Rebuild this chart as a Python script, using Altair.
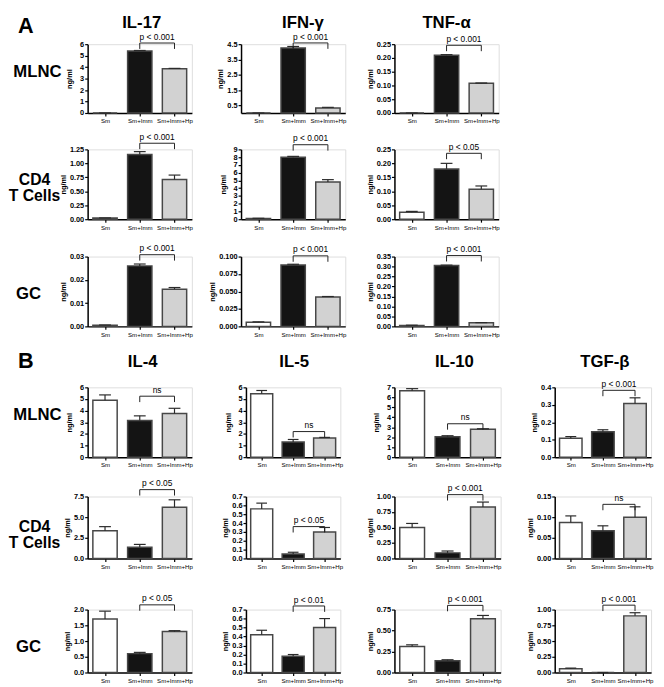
import altair as alt
import pandas as pd

FONT = "Liberation Sans"
groups = ["Sm", "Sm+Imm", "Sm+Imm+Hp"]
bar_fill = ["#ffffff", "#141414", "#d2d2d2"]

# ---------------- Panel A ----------------
A_titles = ["IL-17", "IFN-γ", "TNF-α"]
A_rows = ["MLNC", "CD4\nT Cells", "GC"]

A_MLNC_mean = [[0.0, 5.40, 3.85], [0.0, 4.25, 0.33], [0.0, 0.210, 0.108]]
A_MLNC_sem = [[0.0, 0.05, 0.04], [0.0, 0.10, 0.04], [0.0, 0.002, 0.001]]
A_MLNC_ticks = [["0", "1", "2", "3", "4", "5", "6"],
                ["0.5", "1.5", "2.5", "3.5", "4.5"],
                ["0.00", "0.05", "0.10", "0.15", "0.20", "0.25"]]
A_MLNC_p = ["p < 0.001", "p < 0.001", "p < 0.001"]
A_MLNC_bracket = [6.1, 4.58, 0.246]

A_CD4_mean = [[0.02, 1.16, 0.71], [0.10, 8.00, 4.80], [0.025, 0.180, 0.107]]
A_CD4_sem = [[0.003, 0.05, 0.08], [0.02, 0.10, 0.30], [0.003, 0.020, 0.012]]
A_CD4_ticks = [["0.00", "0.25", "0.50", "0.75", "1.00", "1.25"],
               ["0", "1", "2", "3", "4", "5", "6", "7", "8", "9"],
               ["0.00", "0.05", "0.10", "0.15", "0.20", "0.25"]]
A_CD4_p = ["p < 0.001", "p < 0.001", "p < 0.05"]
A_CD4_bracket = [1.36, 9.6, 0.236]

A_GC_mean = [[0.0005, 0.0260, 0.0160], [0.006, 0.088, 0.042], [0.005, 0.305, 0.018]]
A_GC_sem = [[0.0001, 0.0008, 0.0007], [0.0005, 0.001, 0.0008], [0.001, 0.002, 0.001]]
A_GC_ticks = [["0.00", "0.01", "0.02", "0.03"],
              ["0.000", "0.025", "0.050", "0.075", "0.100"],
              ["0.00", "0.05", "0.10", "0.15", "0.20", "0.25", "0.30", "0.35"]]
A_GC_p = ["p < 0.001", "p < 0.001", "p < 0.001"]
A_GC_bracket = [0.0308, 0.101, 0.355]

# ---------------- Panel B ----------------
B_titles = ["IL-4", "IL-5", "IL-10", "TGF-β"]
B_rows = ["MLNC", "CD4\nT Cells", "GC"]

B_MLNC_mean = [[4.90, 3.15, 3.75], [5.45, 1.30, 1.65], [6.65, 2.05, 2.80], [0.108, 0.145, 0.308]]
B_MLNC_sem = [[0.45, 0.40, 0.45], [0.28, 0.22, 0.05], [0.22, 0.10, 0.05], [0.010, 0.012, 0.032]]
B_MLNC_ticks = [["0", "1", "2", "3", "4", "5", "6"],
                ["0", "1", "2", "3", "4", "5", "6"],
                ["0", "1", "2", "3", "4", "5", "6", "7"],
                ["0.0", "0.1", "0.2", "0.3", "0.4"]]
B_MLNC_p = ["ns", "ns", "ns", "p < 0.001"]
B_MLNC_bracket = [5.24, 2.2, 3.35, 0.383]

B_CD4_mean = [[3.35, 1.35, 6.20], [0.56, 0.05, 0.30], [0.50, 0.09, 0.83], [0.087, 0.067, 0.100]]
B_CD4_sem = [[0.50, 0.35, 0.90], [0.065, 0.02, 0.05], [0.065, 0.03, 0.08], [0.016, 0.012, 0.025]]
B_CD4_ticks = [["0.0", "2.5", "5.0", "7.5"],
               ["0.0", "0.1", "0.2", "0.3", "0.4", "0.5", "0.6", "0.7"],
               ["0.00", "0.25", "0.50", "0.75", "1.00"],
               ["0.00", "0.05", "0.10", "0.15"]]
B_CD4_p = ["p < 0.05", "p < 0.05", "p < 0.001", "ns"]
B_CD4_bracket = [8.33, 0.36, 1.03, 0.131]

B_GC_mean = [[1.70, 0.60, 1.30], [0.42, 0.18, 0.50], [0.31, 0.14, 0.64], [0.06, 0.0, 0.90]]
B_GC_sem = [[0.25, 0.04, 0.03], [0.05, 0.02, 0.10], [0.02, 0.012, 0.04], [0.01, 0.0, 0.05]]
B_GC_ticks = [["0.0", "0.5", "1.0", "1.5", "2.0"],
              ["0.0", "0.1", "0.2", "0.3", "0.4", "0.5", "0.6", "0.7"],
              ["0.00", "0.25", "0.50", "0.75"],
              ["0.00", "0.25", "0.50", "0.75", "1.00"]]
B_GC_p = ["p < 0.05", "p < 0.01", "p < 0.001", "p < 0.001"]
B_GC_bracket = [2.15, 0.74, 0.80, 1.07]

# ---------------- layout constants ----------------
A_W = [106, 106, 106]
B_W = [106, 96, 108, 98]
A_H = [70, 71, 71]
B_H = [71, 63, 64]
A_TITLE_DX = [2, 10, 0]
B_TITLE_DX = [3, 1, 7, 2]
ANCHOR_TOP = 20
ANCHOR_LEFT = 36
LABEL_EXPR = "[" + ",".join("'%s'" % g for g in groups) + "][datum.value]"


def txt(s, x, y, size, weight="bold", baseline="top", lh=None):
    kw = dict(font=FONT, fontSize=size, fontWeight=weight, align="center",
              baseline=baseline, color="black")
    if lh is not None:
        kw["lineBreak"] = "\n"
        kw["lineHeight"] = lh
    return alt.Chart(pd.DataFrame({"t": [s]})).mark_text(**kw).encode(
        text="t:N", x=alt.value(x), y=alt.value(y))


def panel(mean, sem, ticks, ptxt, byv, W, H, extras=()):
    tv = [float(t) for t in ticks]
    dec = len(ticks[-1].split(".")[1]) if "." in ticks[-1] else 0
    ymax = tv[-1]
    df = pd.DataFrame({"i": [0, 1, 2], "g": groups, "m": mean, "s": sem})
    df["top"] = df["m"] + df["s"]
    df["x1"] = df["i"] - 0.35
    df["x2"] = df["i"] + 0.35
    df["c1"] = df["i"] - 0.17
    df["c2"] = df["i"] + 0.17
    xs = alt.Scale(domain=[-0.5, 2.5], nice=False, zero=False)
    ys = alt.Scale(domain=[0, ymax], nice=False, zero=False)
    xax = alt.Axis(values=[0, 1, 2], labelExpr=LABEL_EXPR, title=None, grid=False,
                   tickSize=3, tickWidth=1.2, labelFontSize=6.2, labelFont=FONT,
                   labelPadding=2, labelOverlap=False, labelFlush=False,
                   domainWidth=1.5, domainColor="black", tickColor="black",
                   labelColor="black")
    yax = alt.Axis(values=tv, format=".%df" % dec, title="ng/ml", grid=False,
                   titleFont=FONT, titleFontSize=7.5, titleFontWeight="bold",
                   titleColor="black", titlePadding=2,
                   labelFont=FONT, labelFontSize=7.5, labelFontWeight="bold",
                   labelColor="black", labelPadding=1, labelOverlap=False,
                   labelFlush=False, tickSize=3, tickWidth=1.2,
                   domainWidth=1.5, domainColor="black", tickColor="black",
                   minExtent=12)
    base = alt.Chart(df)
    anc = alt.Chart(pd.DataFrame({"a": [0]})).mark_rule(opacity=0).encode(
        x=alt.value(-ANCHOR_LEFT), x2=alt.value(W + 4), y=alt.value(-ANCHOR_TOP))
    bars = base.mark_bar(stroke="#474747", strokeWidth=1.5).encode(
        x=alt.X("x1:Q", scale=xs, axis=xax), x2="x2:Q",
        y=alt.Y("m:Q", scale=ys, axis=yax), y2=alt.datum(0),
        fill=alt.Fill("g:N", scale=alt.Scale(domain=groups, range=bar_fill), legend=None))
    err = base.mark_rule(color="#2a2a2a", strokeWidth=1.2).encode(
        x=alt.X("i:Q", scale=xs, axis=xax),
        y=alt.Y("m:Q", scale=ys, axis=yax), y2="top:Q")
    cap = base.mark_rule(color="#2a2a2a", strokeWidth=1.2).encode(
        x=alt.X("c1:Q", scale=xs, axis=xax), x2="c2:Q",
        y=alt.Y("top:Q", scale=ys, axis=yax))
    leg = 6.0 / H * ymax
    bdf = pd.DataFrame({"xa": [1, 1, 2], "xb": [2, 1, 2],
                        "ya": [byv, byv, byv], "yb": [byv, byv - leg, byv - leg]})
    br = alt.Chart(bdf).mark_rule(color="#222222", strokeWidth=1).encode(
        x=alt.X("xa:Q", scale=xs, axis=xax), x2="xb:Q",
        y=alt.Y("ya:Q", scale=ys, axis=yax), y2="yb:Q")
    tdf = pd.DataFrame({"x": [1.5], "y": [byv], "t": [ptxt]})
    tx = alt.Chart(tdf).mark_text(baseline="bottom", dy=-1.5, fontSize=8.5,
                                   font=FONT, color="black").encode(
        x=alt.X("x:Q", scale=xs, axis=xax),
        y=alt.Y("y:Q", scale=ys, axis=yax), text="t:N")
    return alt.layer(anc, bars, err, cap, br, tx, *extras).properties(width=W, height=H)


ROW_LABEL = {
    "MLNC": dict(x=-51, y=28, lh=None, size=17),
    "CD4\nT Cells": dict(x=-54, y=31, lh=16, size=16),
    "GC": dict(x=-60, y=38, lh=None, size=17),
}


def make_row(means, sems, ticks, ps, brs, widths, H, label, titles=None, title_dx=None,
             letter=None, spacing=8, title_top=-29, letter_top=-28):
    cells = []
    for k in range(len(means)):
        extras = []
        if titles is not None:
            extras.append(txt(titles[k], widths[k] / 2 + title_dx[k], title_top, 17))
        if k == 0:
            rl = ROW_LABEL[label]
            extras.append(txt(label, rl["x"], rl["y"], rl["size"], baseline="middle", lh=rl["lh"]))
            if letter is not None:
                extras.append(txt(letter, -63, letter_top, 22))
        cells.append(panel(means[k], sems[k], ticks[k], ps[k], brs[k], widths[k], H, extras))
    return alt.hconcat(*cells, spacing=spacing)


rows = [
    make_row(A_MLNC_mean, A_MLNC_sem, A_MLNC_ticks, A_MLNC_p, A_MLNC_bracket, A_W, A_H[0],
             A_rows[0], titles=A_titles, title_dx=A_TITLE_DX, letter="A"),
    make_row(A_CD4_mean, A_CD4_sem, A_CD4_ticks, A_CD4_p, A_CD4_bracket, A_W, A_H[1], A_rows[1]),
    make_row(A_GC_mean, A_GC_sem, A_GC_ticks, A_GC_p, A_GC_bracket, A_W, A_H[2], A_rows[2]),
    make_row(B_MLNC_mean, B_MLNC_sem, B_MLNC_ticks, B_MLNC_p, B_MLNC_bracket, B_W, B_H[0],
             B_rows[0], titles=B_titles, title_dx=B_TITLE_DX, letter="B", spacing=13,
             title_top=-34, letter_top=-37),
    make_row(B_CD4_mean, B_CD4_sem, B_CD4_ticks, B_CD4_p, B_CD4_bracket, B_W, B_H[1],
             B_rows[1], spacing=13),
    make_row(B_GC_mean, B_GC_sem, B_GC_ticks, B_GC_p, B_GC_bracket, B_W, B_H[2],
             B_rows[2], spacing=13),
]
row_gaps = [4, 5, 11, 7, 19]


def stack(items, gaps):
    if len(items) == 1:
        return items[0]
    return alt.vconcat(items[0], stack(items[1:], gaps[1:]), spacing=gaps[0])


chart = (stack(rows, row_gaps)
         .properties(padding=0)
         .configure_view(strokeWidth=0)
         .configure(font=FONT, padding=0))
chart.save("out.html", embed_options={"renderer": "svg", "actions": False})
